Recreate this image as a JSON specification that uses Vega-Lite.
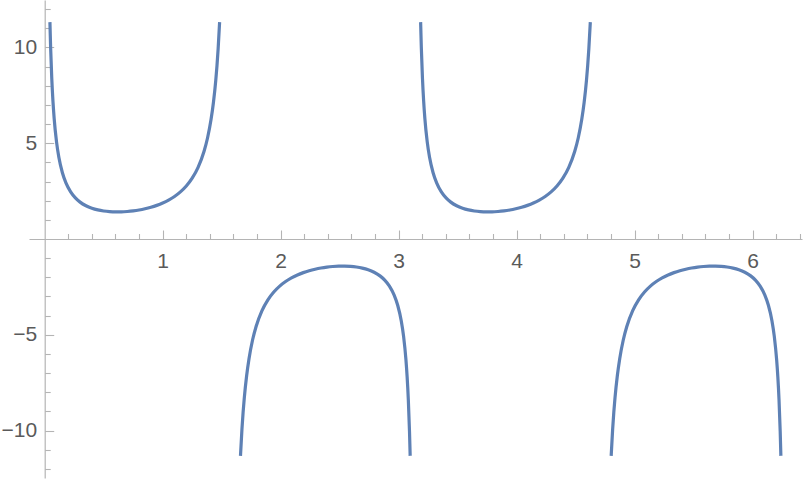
{
  "$schema": "https://vega.github.io/schema/vega-lite/v6.json",
  "width": 773,
  "height": 478,
  "autosize": {"type": "none"},
  "padding": {"left": 29, "top": 0, "right": 4, "bottom": 3},
  "background": "white",
  "config": {
    "view": {"stroke": null},
    "axis": {"grid": false, "title": null, "domainColor": "#b4b4b4", "tickColor": "#b4b4b4", "domainWidth": 1.2, "tickWidth": 1.1, "labelColor": "#5a5a5a", "labelFont": "Liberation Sans", "labelFontSize": 21}
  },
  "data": {"values": [
    {"b":1,"x":0.0443,"y":11.323},{"b":1,"x":0.05,"y":10.042},{"b":1,"x":0.06,"y":8.383},{"b":1,"x":0.07,"y":7.201},{"b":1,"x":0.08,"y":6.317},{"b":1,"x":0.1,"y":5.084},{"b":1,"x":0.12,"y":4.267},{"b":1,"x":0.15,"y":3.459},{"b":1,"x":0.18,"y":2.930},{"b":1,"x":0.22,"y":2.460},{"b":1,"x":0.26,"y":2.146},{"b":1,"x":0.3,"y":1.926},{"b":1,"x":0.35,"y":1.735},{"b":1,"x":0.4,"y":1.605},{"b":1,"x":0.45,"y":1.518},{"b":1,"x":0.5,"y":1.462},{"b":1,"x":0.55,"y":1.429},{"b":1,"x":0.6,"y":1.415},{"b":1,"x":0.65,"y":1.418},{"b":1,"x":0.7,"y":1.436},{"b":1,"x":0.75,"y":1.468},{"b":1,"x":0.8,"y":1.515},{"b":1,"x":0.85,"y":1.578},{"b":1,"x":0.9,"y":1.657},{"b":1,"x":0.95,"y":1.756},{"b":1,"x":1.0,"y":1.878},{"b":1,"x":1.05,"y":2.030},{"b":1,"x":1.1,"y":2.219},{"b":1,"x":1.15,"y":2.458},{"b":1,"x":1.2,"y":2.767},{"b":1,"x":1.25,"y":3.176},{"b":1,"x":1.3,"y":3.741},{"b":1,"x":1.35,"y":4.568},{"b":1,"x":1.38,"y":5.274},{"b":1,"x":1.41,"y":6.247},{"b":1,"x":1.43,"y":7.126},{"b":1,"x":1.45,"y":8.299},{"b":1,"x":1.46,"y":9.044},{"b":1,"x":1.47,"y":9.938},{"b":1,"x":1.4824,"y":11.328},
    {"b":2,"x":3.0973,"y":-11.323},{"b":2,"x":3.0916,"y":-10.042},{"b":2,"x":3.0816,"y":-8.383},{"b":2,"x":3.0716,"y":-7.201},{"b":2,"x":3.0616,"y":-6.317},{"b":2,"x":3.0416,"y":-5.084},{"b":2,"x":3.0216,"y":-4.267},{"b":2,"x":2.9916,"y":-3.459},{"b":2,"x":2.9616,"y":-2.930},{"b":2,"x":2.9216,"y":-2.460},{"b":2,"x":2.8816,"y":-2.146},{"b":2,"x":2.8416,"y":-1.926},{"b":2,"x":2.7916,"y":-1.735},{"b":2,"x":2.7416,"y":-1.605},{"b":2,"x":2.6916,"y":-1.518},{"b":2,"x":2.6416,"y":-1.462},{"b":2,"x":2.5916,"y":-1.429},{"b":2,"x":2.5416,"y":-1.415},{"b":2,"x":2.4916,"y":-1.418},{"b":2,"x":2.4416,"y":-1.436},{"b":2,"x":2.3916,"y":-1.468},{"b":2,"x":2.3416,"y":-1.515},{"b":2,"x":2.2916,"y":-1.578},{"b":2,"x":2.2416,"y":-1.657},{"b":2,"x":2.1916,"y":-1.756},{"b":2,"x":2.1416,"y":-1.878},{"b":2,"x":2.0916,"y":-2.030},{"b":2,"x":2.0416,"y":-2.219},{"b":2,"x":1.9916,"y":-2.458},{"b":2,"x":1.9416,"y":-2.767},{"b":2,"x":1.8916,"y":-3.176},{"b":2,"x":1.8416,"y":-3.741},{"b":2,"x":1.7916,"y":-4.568},{"b":2,"x":1.7616,"y":-5.274},{"b":2,"x":1.7316,"y":-6.247},{"b":2,"x":1.7116,"y":-7.126},{"b":2,"x":1.6916,"y":-8.299},{"b":2,"x":1.6816,"y":-9.044},{"b":2,"x":1.6716,"y":-9.938},{"b":2,"x":1.6592,"y":-11.328},
    {"b":3,"x":3.1859,"y":11.323},{"b":3,"x":3.1916,"y":10.042},{"b":3,"x":3.2016,"y":8.383},{"b":3,"x":3.2116,"y":7.201},{"b":3,"x":3.2216,"y":6.317},{"b":3,"x":3.2416,"y":5.084},{"b":3,"x":3.2616,"y":4.267},{"b":3,"x":3.2916,"y":3.459},{"b":3,"x":3.3216,"y":2.930},{"b":3,"x":3.3616,"y":2.460},{"b":3,"x":3.4016,"y":2.146},{"b":3,"x":3.4416,"y":1.926},{"b":3,"x":3.4916,"y":1.735},{"b":3,"x":3.5416,"y":1.605},{"b":3,"x":3.5916,"y":1.518},{"b":3,"x":3.6416,"y":1.462},{"b":3,"x":3.6916,"y":1.429},{"b":3,"x":3.7416,"y":1.415},{"b":3,"x":3.7916,"y":1.418},{"b":3,"x":3.8416,"y":1.436},{"b":3,"x":3.8916,"y":1.468},{"b":3,"x":3.9416,"y":1.515},{"b":3,"x":3.9916,"y":1.578},{"b":3,"x":4.0416,"y":1.657},{"b":3,"x":4.0916,"y":1.756},{"b":3,"x":4.1416,"y":1.878},{"b":3,"x":4.1916,"y":2.030},{"b":3,"x":4.2416,"y":2.219},{"b":3,"x":4.2916,"y":2.458},{"b":3,"x":4.3416,"y":2.767},{"b":3,"x":4.3916,"y":3.176},{"b":3,"x":4.4416,"y":3.741},{"b":3,"x":4.4916,"y":4.568},{"b":3,"x":4.5216,"y":5.274},{"b":3,"x":4.5516,"y":6.247},{"b":3,"x":4.5716,"y":7.126},{"b":3,"x":4.5916,"y":8.299},{"b":3,"x":4.6016,"y":9.044},{"b":3,"x":4.6116,"y":9.938},{"b":3,"x":4.624,"y":11.328},
    {"b":4,"x":6.2389,"y":-11.323},{"b":4,"x":6.2332,"y":-10.042},{"b":4,"x":6.2232,"y":-8.383},{"b":4,"x":6.2132,"y":-7.201},{"b":4,"x":6.2032,"y":-6.317},{"b":4,"x":6.1832,"y":-5.084},{"b":4,"x":6.1632,"y":-4.267},{"b":4,"x":6.1332,"y":-3.459},{"b":4,"x":6.1032,"y":-2.930},{"b":4,"x":6.0632,"y":-2.460},{"b":4,"x":6.0232,"y":-2.146},{"b":4,"x":5.9832,"y":-1.926},{"b":4,"x":5.9332,"y":-1.735},{"b":4,"x":5.8832,"y":-1.605},{"b":4,"x":5.8332,"y":-1.518},{"b":4,"x":5.7832,"y":-1.462},{"b":4,"x":5.7332,"y":-1.429},{"b":4,"x":5.6832,"y":-1.415},{"b":4,"x":5.6332,"y":-1.418},{"b":4,"x":5.5832,"y":-1.436},{"b":4,"x":5.5332,"y":-1.468},{"b":4,"x":5.4832,"y":-1.515},{"b":4,"x":5.4332,"y":-1.578},{"b":4,"x":5.3832,"y":-1.657},{"b":4,"x":5.3332,"y":-1.756},{"b":4,"x":5.2832,"y":-1.878},{"b":4,"x":5.2332,"y":-2.030},{"b":4,"x":5.1832,"y":-2.219},{"b":4,"x":5.1332,"y":-2.458},{"b":4,"x":5.0832,"y":-2.767},{"b":4,"x":5.0332,"y":-3.176},{"b":4,"x":4.9832,"y":-3.741},{"b":4,"x":4.9332,"y":-4.568},{"b":4,"x":4.9032,"y":-5.274},{"b":4,"x":4.8732,"y":-6.247},{"b":4,"x":4.8532,"y":-7.126},{"b":4,"x":4.8332,"y":-8.299},{"b":4,"x":4.8232,"y":-9.044},{"b":4,"x":4.8132,"y":-9.938},{"b":4,"x":4.8008,"y":-11.328}
  ]},
  "resolve": {"axis": {"x": "independent", "y": "independent"}},
  "layer": [
    {
      "transform": [{"filter": "datum.b == 1"}],
      "mark": {"type": "line", "color": "#5E81B5", "strokeWidth": 3.2, "interpolate": "monotone"},
      "encoding": {
        "x": {"field": "x", "type": "quantitative", "scale": {"domain": [-0.133, 6.418], "nice": false, "zero": false},
              "axis": {"orient": "bottom", "offset": -239, "values": [1, 2, 3, 4, 5, 6], "ticks": false, "labelPadding": 11, "domain": true}},
        "y": {"field": "y", "type": "quantitative", "scale": {"domain": [-12.48, 12.48], "nice": false, "zero": false},
              "axis": {"orient": "left", "offset": -15.7, "values": [-10, -5, 5, 10], "ticks": false, "labelPadding": 8, "domain": true}}
      }
    },
    {
      "transform": [{"filter": "datum.b == 2"}],
      "mark": {"type": "line", "color": "#5E81B5", "strokeWidth": 3.2, "interpolate": "monotone"},
      "encoding": {
        "x": {"field": "x", "type": "quantitative", "scale": {"domain": [-0.133, 6.418], "nice": false, "zero": false},
              "axis": {"orient": "top", "offset": -239, "values": [1, 2, 3, 4, 5, 6], "tickSize": 9, "labels": false, "domain": false}},
        "y": {"field": "y", "type": "quantitative", "scale": {"domain": [-12.48, 12.48], "nice": false, "zero": false},
              "axis": {"orient": "right", "offset": -757.3, "values": [-10, -5, 5, 10], "tickSize": 9, "labels": false, "domain": false}}
      }
    },
    {
      "transform": [{"filter": "datum.b == 3"}],
      "mark": {"type": "line", "color": "#5E81B5", "strokeWidth": 3.2, "interpolate": "monotone"},
      "encoding": {
        "x": {"field": "x", "type": "quantitative", "scale": {"domain": [-0.133, 6.418], "nice": false, "zero": false},
              "axis": {"orient": "top", "offset": -239, "values": [0.2, 0.4, 0.6, 0.8, 1.2, 1.4, 1.6, 1.8, 2.2, 2.4, 2.6, 2.8, 3.2, 3.4, 3.6, 3.8, 4.2, 4.4, 4.6, 4.8, 5.2, 5.4, 5.6, 5.8, 6.2, 6.4], "tickSize": 5.5, "labels": false, "domain": false}},
        "y": {"field": "y", "type": "quantitative", "scale": {"domain": [-12.48, 12.48], "nice": false, "zero": false},
              "axis": {"orient": "right", "offset": -757.3, "values": [-12, -11, -9, -8, -7, -6, -4, -3, -2, -1, 1, 2, 3, 4, 6, 7, 8, 9, 11, 12], "tickSize": 5.5, "labels": false, "domain": false}}
      }
    },
    {
      "transform": [{"filter": "datum.b == 4"}],
      "mark": {"type": "line", "color": "#5E81B5", "strokeWidth": 3.2, "interpolate": "monotone"},
      "encoding": {
        "x": {"field": "x", "type": "quantitative", "scale": {"domain": [-0.133, 6.418], "nice": false, "zero": false}, "axis": null},
        "y": {"field": "y", "type": "quantitative", "scale": {"domain": [-12.48, 12.48], "nice": false, "zero": false}, "axis": null}
      }
    }
  ]
}
